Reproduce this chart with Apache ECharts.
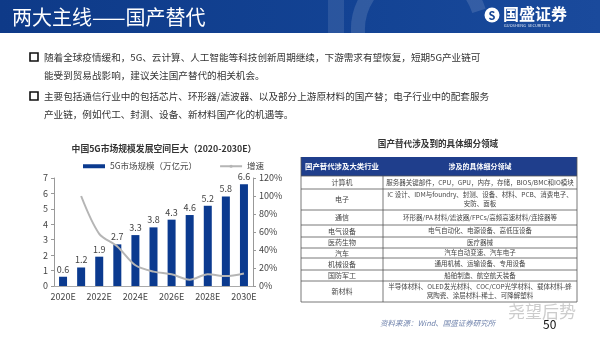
<!DOCTYPE html>
<html><head><meta charset="utf-8">
<script src="https://cdn.jsdelivr.net/npm/echarts@6/dist/echarts.min.js"></script>
<style>html,body{margin:0;padding:0;background:#fff}#c{width:600px;height:338px}</style>
</head><body><div id="c"></div>
<script>
// ---- data ----
const categories = ['2020E','2021E','2022E','2023E','2024E','2025E','2026E','2027E','2028E','2029E','2030E'];
const marketSize = [0.6, 1.2, 1.9, 2.7, 3.3, 3.8, 4.3, 4.6, 5.2, 5.8, 6.6];
const growthRate = [null, 100, 58, 44, 23, 16, 13, 7, 13, 11, 14];
const seriesNames = ['5G市场规模（万亿元）', '增速'];
const pageTitle = '两大主线——国产替代';
const chartTitle = '中国5G市场规模发展空间巨大（2020-2030E）';
const tableTitle = '国产替代涉及到的具体细分领域';
const tableHeader = ['国产替代涉及大类行业', '涉及的具体细分领域'];
const tableIndustries = ['计算机','电子','通信','电气设备','医药生物','汽车','机械设备','国防军工','新材料'];
const tableFields = [
  '服务器关键部件，CPU，GPU，内存，存储，BIOS/BMC和IO模块',
  'IC 设计、IDM与foundry、封测、设备、材料、PCB、消费电子、\n安防、面板',
  '环形器/PA 材料/滤波器/FPCs/高频高速材料/连接器等',
  '电气自动化、电源设备、高低压设备',
  '医疗器械',
  '汽车自动变速、汽车电子',
  '通用机械、运输设备、专用设备',
  '船舶制造、航空航天装备',
  '半导体材料、OLED发光材料、COC/COP光学材料、载体材料-蜂\n窝陶瓷、涂层材料-稀土、可降解塑料'
];
const bulletLines = [
  ['随着全球疫情缓和，5G、云计算、人工智能等科技创新周期继续，下游需求有望恢复，短期5G产业链可', '能受到贸易战影响，建议关注国产替代的相关机会。'],
  ['主要包括通信行业中的包括芯片、环形器/滤波器、以及部分上游原材料的国产替；电子行业中的配套服务', '产业链，例如代工、封测、设备、新材料国产化的机遇等。']
];
const sourceNote = '资料来源：Wind、国盛证券研究所';
const pageNumber = '50';

// ---- layout ----
const FONT = '"Noto Sans CJK SC", "Noto Sans", sans-serif';
const tblX0 = 301, tblX1 = 577, tblXm = 383;
const rowY = [157, 176, 189, 210, 225, 237, 248, 258, 270, 281, 302];

const g = [];
// header band
g.push({type:'rect', shape:{x:0,y:0,width:600,height:33}, style:{fill:new echarts.graphic.LinearGradient(0,0,1,0,[{offset:0,color:'#0e3a88'},{offset:0.6,color:'#134394'},{offset:1,color:'#1a4a9c'}])}, z:1});
g.push({type:'arc', shape:{cx:420, cy:30, r:62, startAngle:Math.PI*0.95, endAngle:Math.PI*1.9}, style:{stroke:'rgba(255,255,255,0.13)', lineWidth:14, fill:null}, z:2});
g.push({type:'rect', shape:{x:328,y:0,width:16,height:33}, style:{fill:'rgba(255,255,255,0.10)'}, z:2});
g.push({type:'text', x:12, y:17, style:{text:pageTitle, font:'20px '+FONT, fill:'#fff', textVerticalAlign:'middle'}, z:3});
// logo
g.push({type:'circle', shape:{cx:492, cy:15, r:7.5}, style:{fill:'#fff'}, z:3});
g.push({type:'text', x:492, y:15.5, style:{text:'S', font:'bold 11px '+FONT, fill:'#134394', textAlign:'center', textVerticalAlign:'middle'}, z:4});
g.push({type:'text', x:503, y:14, style:{text:'国盛证券', font:'bold 16px '+FONT, fill:'#fff', textVerticalAlign:'middle'}, z:3});
g.push({type:'text', x:504, y:25, style:{text:'GUOSHENG  SECURITIES', font:'4px '+FONT, fill:'#dfe6f3', textVerticalAlign:'middle'}, z:3});

// bullets
const bulletY = [[57, 75], [96, 114]];
bulletLines.forEach((lines, i) => {
  g.push({type:'rect', shape:{x:30, y:bulletY[i][0]-4, width:8, height:8}, style:{fill:'#fff', stroke:'#111', lineWidth:1.6}, z:3});
  lines.forEach((t, j) => {
    g.push({type:'text', x:44, y:bulletY[i][j], style:{text:t, font:'9.6px '+FONT, fill:'#333', textVerticalAlign:'middle'}, z:3});
  });
});

// table
g.push({type:'text', x:438, y:144, style:{text:tableTitle, font:'bold 8.6px '+FONT, fill:'#333', textAlign:'center', textVerticalAlign:'middle'}, z:3});
g.push({type:'rect', shape:{x:tblX0, y:rowY[0], width:tblX1-tblX0, height:rowY[1]-rowY[0]}, style:{fill:'#1f3e8c'}, z:3});
g.push({type:'text', x:(tblX0+tblXm)/2, y:(rowY[0]+rowY[1])/2, style:{text:tableHeader[0], font:'bold 7.4px '+FONT, fill:'#fff', textAlign:'center', textVerticalAlign:'middle'}, z:4});
g.push({type:'text', x:(tblXm+tblX1)/2, y:(rowY[0]+rowY[1])/2, style:{text:tableHeader[1], font:'bold 7px '+FONT, fill:'#fff', textAlign:'center', textVerticalAlign:'middle'}, z:4});
for (let i = 1; i < rowY.length; i++) {
  g.push({type:'line', shape:{x1:tblX0, y1:rowY[i], x2:tblX1, y2:rowY[i]}, style:{stroke:'#555', lineWidth:0.8}, z:4});
}
g.push({type:'line', shape:{x1:tblX0, y1:rowY[0], x2:tblX0, y2:rowY[rowY.length-1]}, style:{stroke:'#555', lineWidth:0.8}, z:4});
g.push({type:'line', shape:{x1:tblX1, y1:rowY[0], x2:tblX1, y2:rowY[rowY.length-1]}, style:{stroke:'#555', lineWidth:0.8}, z:4});
g.push({type:'line', shape:{x1:tblXm, y1:rowY[1], x2:tblXm, y2:rowY[rowY.length-1]}, style:{stroke:'#555', lineWidth:0.8}, z:4});
tableIndustries.forEach((name, i) => {
  const cy = (rowY[i+1] + rowY[i+2]) / 2;
  g.push({type:'text', x:(tblX0+tblXm)/2, y:cy, style:{text:name, font:'7px '+FONT, fill:'#444', textAlign:'center', textVerticalAlign:'middle'}, z:4});
  g.push({type:'text', x:(tblXm+tblX1)/2, y:cy, style:{text:tableFields[i], font:'6.5px '+FONT, fill:'#444', textAlign:'center', textVerticalAlign:'middle', lineHeight:9}, z:4});
});

// footer
g.push({type:'text', x:380, y:323, style:{text:sourceNote, font:'italic 7.5px '+FONT, fill:'#7184ad', textVerticalAlign:'middle'}, z:3});
g.push({type:'text', x:508, y:312, style:{text:'尧望后势', font:'17px '+FONT, fill:'rgba(170,170,170,0.6)', textVerticalAlign:'middle'}, z:3});
g.push({type:'text', x:543, y:324, style:{text:pageNumber, font:'12px '+FONT, fill:'#111', textVerticalAlign:'middle'}, z:5});

const chart = echarts.init(document.getElementById('c'), null, {renderer:'canvas'});
chart.setOption({
  animation:false,
  backgroundColor:'#fff',
  title:{text:chartTitle, left:159, top:139, textAlign:'center', textStyle:{fontSize:8.8, fontWeight:'bold', color:'#333', fontFamily:FONT}},
  legend:{left:78, top:157, itemWidth:22, itemHeight:4, itemGap:22,
    textStyle:{fontSize:8.5, color:'#444', fontFamily:FONT},
    data:[{name:seriesNames[0], icon:'rect'}, {name:seriesNames[1]}]},
  grid:{left:54, right:347, top:178, bottom:52},
  xAxis:{type:'category', data:categories,
    axisLine:{lineStyle:{color:'#aaa'}}, axisTick:{show:false},
    axisLabel:{interval:1, fontSize:9, color:'#444', margin:6, fontFamily:FONT}},
  yAxis:[
    {type:'value', min:0, max:7, interval:1, splitLine:{show:false},
     axisLine:{show:true, lineStyle:{color:'#999'}}, axisTick:{show:true, length:3, lineStyle:{color:'#999'}},
     axisLabel:{fontSize:9, color:'#444', margin:6, fontFamily:FONT}},
    {type:'value', min:0, max:120, interval:20, splitLine:{show:false}, position:'right',
     axisLine:{show:true, lineStyle:{color:'#999'}}, axisTick:{show:true, length:3, inside:false, lineStyle:{color:'#999'}},
     axisLabel:{fontSize:9, color:'#444', margin:6, formatter:'{value}%', fontFamily:FONT}}
  ],
  series:[
    {name:seriesNames[0], type:'bar', data:marketSize, barWidth:8,
     itemStyle:{color:'#0b3a8f'},
     label:{show:true, position:'top', fontSize:9, color:'#444', distance:3, fontFamily:FONT}},
    {name:seriesNames[1], type:'line', yAxisIndex:1, data:growthRate, symbol:'none', smooth:0.3,
     lineStyle:{color:'#b5b5b5', width:2}, itemStyle:{color:'#b5b5b5'}}
  ],
  graphic:g
});
</script></body></html>
